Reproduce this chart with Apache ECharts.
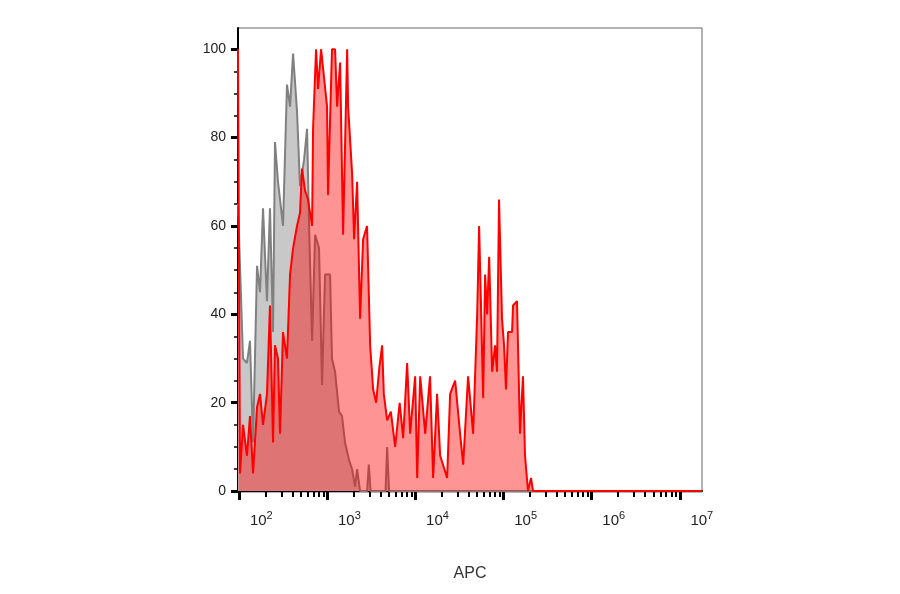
<!DOCTYPE html>
<html><head><meta charset="utf-8">
<script src="https://cdn.jsdelivr.net/npm/echarts@6/dist/echarts.min.js"></script>
<style>html,body{margin:0;padding:0;background:#fff}#c{width:900px;height:594px}</style>
</head><body><div id="c"></div>
<script>
// x values are log10(APC)
const redX = [1.985,1.99,2.008,2.042,2.087,2.121,2.156,2.201,2.235,2.269,2.314,2.348,2.383,2.405,2.439,2.462,2.496,2.541,2.576,2.610,2.655,2.689,2.712,2.746,2.780,2.826,2.837,2.871,2.894,2.928,2.950,2.996,3.007,3.052,3.087,3.110,3.144,3.178,3.224,3.235,3.280,3.303,3.337,3.371,3.405,3.450,3.485,3.519,3.553,3.59,3.621,3.64,3.678,3.72,3.769,3.82,3.86,3.905,3.939,3.996,4.019,4.053,4.110,4.165,4.200,4.245,4.280,4.359,4.393,4.450,4.506,4.541,4.597,4.654,4.700,4.722,4.768,4.790,4.813,4.836,4.870,4.903,4.925,4.948,4.982,5.005,5.027,5.050,5.096,5.107,5.152,5.186,5.220,5.243,5.277,5.311,5.334,7.252];
const redY = [100,100,4,15,8,17,4,19,22,15,22,42,11,33,30,13,36,30,49,55,60,63,73,68,66,60,82,100,91,100,100,87,67,100,100,87,97,58,100,87,72,57,70,39,57,60,33,23,20,28,33,22,16,18,10,20,12,29,13,26,3,26,13,26,3,22,8,3,22,25,13,6,26,13,40,60,21,49,40,53,27,33,27,66,39,33,23,36,36,42,43,13,26,8,0,3,0,0];
const grayX = [1.985,2.042,2.087,2.121,2.156,2.201,2.235,2.269,2.314,2.348,2.383,2.405,2.439,2.496,2.541,2.576,2.610,2.655,2.689,2.735,2.769,2.792,2.826,2.860,2.905,2.939,2.973,3.030,3.052,3.087,3.132,3.166,3.200,3.246,3.280,3.314,3.337,3.371,3.45,3.47,3.49,3.66,3.678,3.70,7.252];
const grayY = [65,30,29,34,11,51,45,64,43,64,36,79,70,60,92,87,99,86,69,75,82,60,34,58,55,24,49,49,30,27,18,17,11,7,5,1,5,0,0,6,0,0,10,0,0];
const majorTicks = [2,3,4,5,6,7];
const minorTicks = [];
for (const d of [1,2,3,4,5,6,7]) for (let k=2;k<=9;k++){const v=d+Math.log10(k); if(v>1.985&&v<7.25) minorTicks.push(v);}
const yTicks = [0,20,40,60,80,100];

const zip=(a,b)=>a.map((v,i)=>[v,b[i]]);
const chart = echarts.init(document.getElementById('c'));
const font='"Liberation Sans", Arial, sans-serif';
chart.setOption({
  animation:false,
  grid:{left:238,right:198,top:28,bottom:102,show:true,borderColor:'#666',borderWidth:1,containLabel:false},
  xAxis:[{
    type:'value',min:1.985,max:7.252,
    name:'APC',nameLocation:'middle',nameGap:74,nameTextStyle:{fontFamily:font,fontSize:16,color:'#333'},
    axisLine:{show:true,lineStyle:{color:'#000',width:2}},
    axisTick:{show:true,customValues:majorTicks,length:9,lineStyle:{color:'#000',width:3}},
    axisLabel:{customValues:majorTicks,margin:18,padding:[0,0,0,44],
      formatter:v=>'{b|10}{s|'+Math.round(v)+'}',
      rich:{b:{fontFamily:font,fontSize:15,color:'#222'},s:{fontFamily:font,fontSize:11,color:'#222',padding:[0,0,10,0]}}},
    splitLine:{show:false}
  },{
    type:'value',min:1.985,max:7.252,position:'bottom',
    axisLine:{show:false},
    axisTick:{show:true,customValues:minorTicks,length:5,lineStyle:{color:'#000',width:2}},
    axisLabel:{show:false},splitLine:{show:false}
  }],
  yAxis:{type:'value',min:-0.2,max:104.8,
    axisLine:{show:true,lineStyle:{color:'#000',width:2}},
    axisTick:{show:true,customValues:yTicks,length:7,lineStyle:{color:'#000',width:3}},
    minorTick:{show:true,splitNumber:4,length:4,lineStyle:{color:'#000',width:1.5}},
    axisLabel:{customValues:yTicks,fontFamily:font,fontSize:14,color:'#222',margin:12},
    splitLine:{show:false}},
  series:[
    {type:'line',data:zip(grayX,grayY),symbol:'none',lineStyle:{color:'#808080',width:2},areaStyle:{color:'#c8c8c8',opacity:1},z:2},
    {type:'line',data:zip(redX,redY),symbol:'none',lineStyle:{color:'#ff0000',width:2},areaStyle:{color:'rgba(255,0,0,0.42)',opacity:1},z:3}
  ]
});
</script></body></html>
